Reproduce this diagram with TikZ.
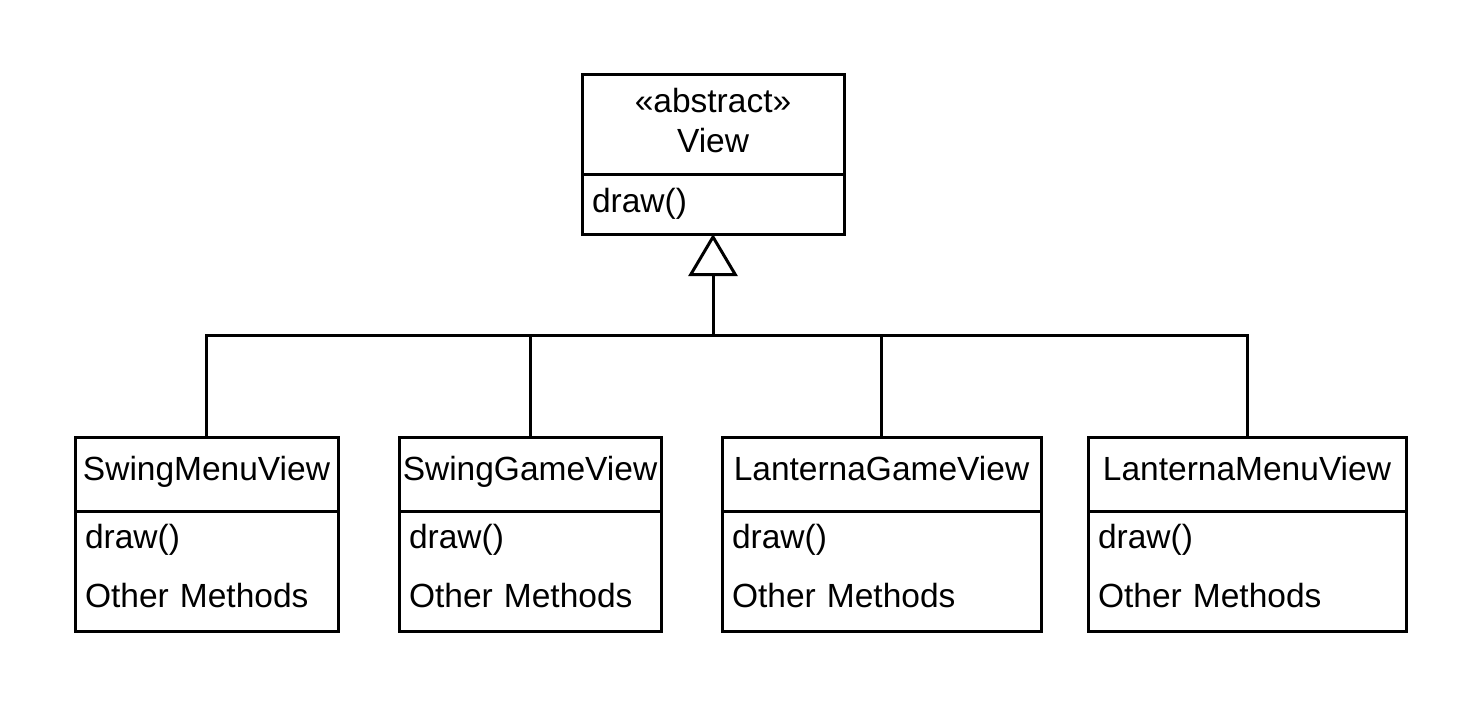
\documentclass[tikz,border=0pt]{standalone}
\usepackage{fontspec}
\setmainfont{Liberation Sans}
\usetikzlibrary{arrows.meta}
\usetikzlibrary{positioning}
\tikzset{
	classname/.style={rectangle, draw, line width=1.5pt, inner sep=0pt, outer sep=0pt, align=center, minimum height=37pt, text height=12pt, text depth=6pt, font=\fontsize{16.75}{20}\selectfont},
	methods/.style={rectangle, draw, line width=1.5pt, inner xsep=5pt, inner ysep=0pt, outer sep=0pt, align=left, minimum height=60pt, text height=12pt, text depth=35pt, font=\fontsize{16.75}{29.5}\selectfont},
	arrow/.style={draw, -{Triangle[open, length=21pt, width=24.5pt]}, line width=1.5pt},
	link/.style={draw, line width=1.5pt}
}

\begin{document}
\begin{tikzpicture}[x=0.5pt, y=-0.5pt]
\useasboundingbox (0,0) rectangle (1481,707);

\node[classname, minimum width=131pt, minimum height=50pt, text height=28pt, text depth=0pt] (view) at (713,124)
	{«abstract»\\View};
\node[methods, text width=121pt, minimum height=30pt, text depth=4pt, below=0pt of view] (viewops)
	{draw()};

\node[classname, minimum width=131.5pt] (swingmenu) at (206.5,474) {SwingMenuView};
\node[methods, text width=121.5pt, below=0pt of swingmenu] (swingmenuops)
	{draw()\\Other Methods};

\node[classname, minimum width=131pt] (swinggame) at (530,474) {SwingGameView};
\node[methods, text width=121pt, below=0pt of swinggame] (swinggameops)
	{draw()\\Other Methods};

\node[classname, minimum width=159.5pt] (lanternagame) at (881.5,474) {LanternaGameView};
\node[methods, text width=149.5pt, below=0pt of lanternagame] (lanternagameops)
	{draw()\\Other Methods};

\node[classname, minimum width=159pt] (lanternamenu) at (1247,474) {LanternaMenuView};
\node[methods, text width=149pt, below=0pt of lanternamenu] (lanternamenuops)
	{draw()\\Other Methods};

\coordinate (bus) at (713,335);

\draw [arrow] (bus) -- (viewops.south);
\draw [link] (swingmenu.north) |- (bus) -| (lanternamenu.north);
\draw [link] (swinggame.north) -- (swinggame.north |- bus);
\draw [link] (lanternagame.north) -- (lanternagame.north |- bus);

\end{tikzpicture}
\end{document}
